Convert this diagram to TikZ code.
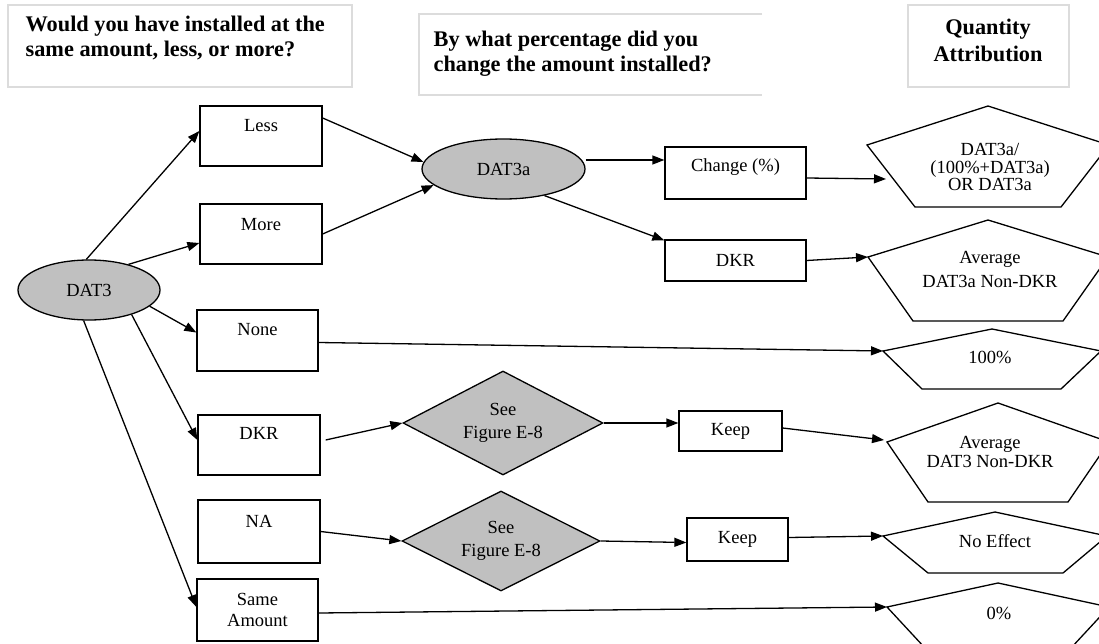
\documentclass[tikz,border=0pt]{standalone}
\usepackage{fontspec}
\setmainfont{Liberation Serif}
\usetikzlibrary{shapes.geometric,arrows.meta}
\definecolor{shade}{HTML}{C0C0C0}
\definecolor{frame}{HTML}{DCDCDC}
\begin{document}
\begin{tikzpicture}[x=1pt,y=-1pt, line width=1.3pt,
  body/.style={font=\fontsize{18.5}{19}\selectfont},
  box/.style={body, draw, rectangle, inner sep=0pt},
  txtup/.style={text height=12pt, text depth=#1},
  oval/.style={body, draw, ellipse, fill=shade, inner sep=0pt},
  dia/.style={draw, diamond, aspect=2, fill=shade, inner sep=0pt, align=center, font=\fontsize{18.5}{23}\selectfont},
  pent/.style={draw, line join=miter},
  ptext/.style={align=center, inner sep=0pt},
  arr/.style={-{Triangle[length=12pt,width=9pt]}},
  hframe/.style={draw=frame, line width=1.5pt},
  htext/.style={font=\bfseries\fontsize{22.3}{25}\selectfont, inner sep=0pt}]
\useasboundingbox (0,0) rectangle (1099,644);
\clip (0,0) rectangle (1099,644);

% header frames and texts
\draw[hframe] (8,5) rectangle (352,87);
\draw[hframe] (762,14) -- (419,14) -- (419,95) -- (762,95);
\draw[hframe] (908,5) rectangle (1069,87);
\node[htext, align=left, anchor=north west] (h1) at (25,15) {Would you have installed at the\\same amount, less, or more?};
\node[htext, align=left, anchor=north west] (h2) at (433,30) {By what percentage did you\\change the amount installed?};
\node[htext, align=center, anchor=north, font=\bfseries\fontsize{22.3}{27}\selectfont] (h3) at (988,18.5) {Quantity\\Attribution};

% ellipses
\node[oval, minimum width=142, minimum height=60] (dat3) at (89,290) {DAT3};
\node[oval, minimum width=163, minimum height=60] (dat3a) at (503.5,169) {DAT3a};

% first column boxes
\node[box, txtup=20pt, minimum width=122, minimum height=60] (less) at (261,136) {Less};
\node[box, txtup=20pt, minimum width=122, minimum height=60] (more) at (261,234) {More};
\node[box, txtup=22pt, minimum width=121, minimum height=61] (none) at (257.5,340.5) {None};
\node[box, txtup=23pt, minimum width=122, minimum height=60] (dkr) at (259,445) {DKR};
\node[box, txtup=21pt, minimum width=122, minimum height=63] (na) at (259,531.5) {NA};
\node[box, align=center, font=\fontsize{18.5}{21}\selectfont, minimum width=121, minimum height=62] (same) at (257.5,610) {Same\\Amount};

% second column
\node[box, txtup=14pt, minimum width=141, minimum height=52] (change) at (735.5,173) {Change (\%)};
\node[box, minimum width=141, minimum height=41] (dkrb) at (735.5,260.5) {DKR};
\node[dia, minimum width=200, minimum height=104] (d1) at (503,423) {See\\Figure E-8};
\node[dia, minimum width=198, minimum height=100] (d2) at (501,541) {See\\Figure E-8};
\node[box, minimum width=103, minimum height=40] (keep1) at (730.5,431) {Keep};
\node[box, minimum width=101, minimum height=43] (keep2) at (737.5,539.5) {Keep};

% pentagons (quantity attribution)
\draw[pent] (867,145) coordinate (p1w) -- (988,106) -- (1109,145) -- (1061,207) -- (915,207) -- cycle;
\draw[pent] (868,257) coordinate (p2w) -- (988,220) -- (1108,257) -- (1063,321) -- (913,321) -- cycle;
\draw[pent] (883,351) coordinate (p3w) -- (992,329) -- (1101,351) -- (1061,389) -- (922,389) -- cycle;
\draw[pent] (887,442) coordinate (p4w) -- (998,403) -- (1109,442) -- (1068,502) -- (928,502) -- cycle;
\draw[pent] (883,536) coordinate (p5w) -- (995,512) -- (1107,536) -- (1063,573) -- (928,573) -- cycle;
\draw[pent] (887,607) coordinate (p6w) -- (998,583) -- (1109,607) -- (1071,648) -- (925,648) -- cycle;
\coordinate (p1in) at (886,179);
\coordinate (p4in) at (884,440);

\node[ptext, font=\fontsize{18.5}{17.5}\selectfont] (t1) at (990,167) {DAT3a/\\(100\%+DAT3a)\\OR DAT3a};
\node[ptext, font=\fontsize{18.5}{24}\selectfont] (t2) at (990,269) {Average\\DAT3a Non-DKR};
\node[ptext, body] (t3) at (990,357) {100\%};
\node[ptext, font=\fontsize{18.5}{18.5}\selectfont] (t4) at (990,452) {Average\\DAT3 Non-DKR};
\node[ptext, body] (t5) at (995,541) {No Effect};
\node[ptext, body] (t6) at (999,613) {0\%};

% connectors
\draw[arr] (dat3.95) -- ([yshift=5pt]less.west);
\draw[arr] (dat3.33) -- ([yshift=-9pt]more.west);
\draw[arr] (dat3.-15) -- ([yshift=8pt]none.west);
\draw[arr] (dat3.-30) -- ([yshift=5pt]dkr.west);
\draw[arr] (dat3.-100) -- ([yshift=3pt]same.west);
\draw[arr] ([yshift=18pt]less.east) -- (dat3a.175);
\draw[arr] (more.east) -- (dat3a.193);
\draw[arr] ([yshift=9pt]dat3a.east) -- ([yshift=13pt]change.west);
\draw[arr] (dat3a.-33) -- ([yshift=-1pt]dkrb.north west);
\draw[arr] ([yshift=-5pt]change.east) -- (p1in);
\draw[arr] (dkrb.east) -- (p2w);
\draw[arr] ([yshift=-2pt]none.east) -- (p3w);
\draw[arr] ([xshift=5pt,yshift=5pt]dkr.east) -- (d1.west);
\draw[arr] (d1.east) -- ([yshift=8pt]keep1.west);
\draw[arr] ([yshift=3pt]keep1.east) -- (p4in);
\draw[arr] (na.east) -- (d2.west);
\draw[arr] (d2.east) -- ([yshift=-3pt]keep2.west);
\draw[arr] ([yshift=2pt]keep2.east) -- (p5w);
\draw[arr] ([yshift=-3pt]same.east) -- (p6w);
\end{tikzpicture}
\end{document}
